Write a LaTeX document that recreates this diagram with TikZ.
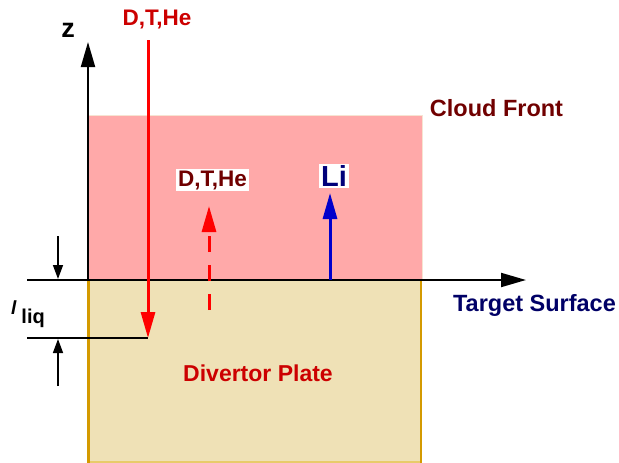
\documentclass[tikz,border=0pt]{standalone}
\usepackage{fontspec}
\setmainfont{Liberation Sans}
\usetikzlibrary{arrows.meta}
\definecolor{cloudpink}{HTML}{FFA9A9}
\definecolor{cloudedge}{HTML}{F6E4D2}
\definecolor{platetan}{HTML}{EFE1B6}
\definecolor{plategold}{HTML}{D49A00}
\definecolor{platebase}{HTML}{E8CB6A}
\definecolor{fuelred}{HTML}{FF0000}
\definecolor{labelred}{HTML}{CC0000}
\definecolor{darkmaroon}{HTML}{700000}
\definecolor{navytext}{HTML}{000066}
\definecolor{liblue}{HTML}{0000CC}
\begin{document}
\begin{tikzpicture}[x=1pt,y=-1pt,
  lbl/.style={font=\bfseries\fontsize{22.5}{24}\selectfont, inner sep=1pt},
  biglbl/.style={font=\bfseries\fontsize{23.5}{25}\selectfont, inner sep=1pt},
  boxlbl/.style={lbl, fill=white, inner xsep=2pt, inner ysep=2pt},
  axis/.style={line width=2pt, -{Triangle[length=25pt,width=14pt]}},
  dimline/.style={line width=1.5pt},
  dimarrow/.style={line width=1.5pt, -{Triangle[length=14pt,width=10pt]}},
  flux/.style={line width=3pt, -{Triangle[length=26pt,width=14pt]}}]
\useasboundingbox (0,0) rectangle (619,463);

% vapour cloud above the surface
\fill[cloudpink] (87,115) rectangle (423,279);
\draw[cloudedge, line width=1.5pt] (88,115.5) -- (422.5,115.5) -- (422.5,279);

% divertor plate
\fill[platetan] (87,280) rectangle (422,463);
\draw[platebase, line width=2pt] (88,462) -- (421,462);
\draw[plategold, line width=2.5pt] (88.5,281) -- (88.5,463);
\draw[plategold, line width=2.5pt] (421,281) -- (421,463);

% axes
\coordinate (o) at (88,280);
\coordinate (ztip) at (88,42);
\coordinate (xtip) at (526,280);
\draw[axis] (o) -- (ztip);
\draw[axis] (o) -- (xtip);
\node[font=\bfseries\fontsize{27}{28}\selectfont, inner sep=0pt] (zlab) at (68,30) {z};

% liquid layer thickness
\coordinate (e1) at (27,280);
\coordinate (e2) at (27,338);
\coordinate (hit) at (148,338);
\draw[dimline] (e1) -- (o);
\draw[dimline] (e2) -- (hit);
\coordinate (d1s) at (58,236);
\coordinate (d1e) at (58,279);
\coordinate (d2s) at (58,386);
\coordinate (d2e) at (58,339);
\draw[dimarrow] (d1s) -- (d1e);
\draw[dimarrow] (d2s) -- (d2e);
\node[anchor=base west, inner sep=0pt] (lliq) at (11,314)
  {\bfseries\fontsize{19}{20}\selectfont\itshape l\hspace{5pt}\raisebox{-9pt}{\fontsize{20}{21}\selectfont\upshape liq}};

% incoming plasma particles
\node[lbl, text=labelred] (dthe) at (157,20) {D,T,He};
\coordinate (in1) at (148,40);
\draw[flux, fuelred] (in1) -- (hit);

% recycled particles
\coordinate (rb) at (209,310);
\coordinate (rt) at (209,206);
\draw[flux, fuelred, dash pattern=on 16pt off 13pt] (rb) -- (rt);
\node[boxlbl, text=darkmaroon] (dthe2) at (212.5,180) {D,T,He};

% lithium vapour
\coordinate (lb) at (330,280);
\coordinate (lt) at (330,193);
\draw[flux, liblue] (lb) -- (lt);
\node[boxlbl, font=\bfseries\fontsize{29}{30}\selectfont, text=navytext!80!liblue, inner ysep=1.5pt] (li) at (334,176) {Li};

% region labels
\node[biglbl, text=darkmaroon] (cloud) at (496.5,108) {Cloud Front};
\node[biglbl, text=navytext] (target) at (534.5,305) {Target Surface};
\node[lbl, font=\bfseries\fontsize{23}{25}\selectfont, text=labelred] (plate) at (258,373) {Divertor Plate};
\end{tikzpicture}
\end{document}
